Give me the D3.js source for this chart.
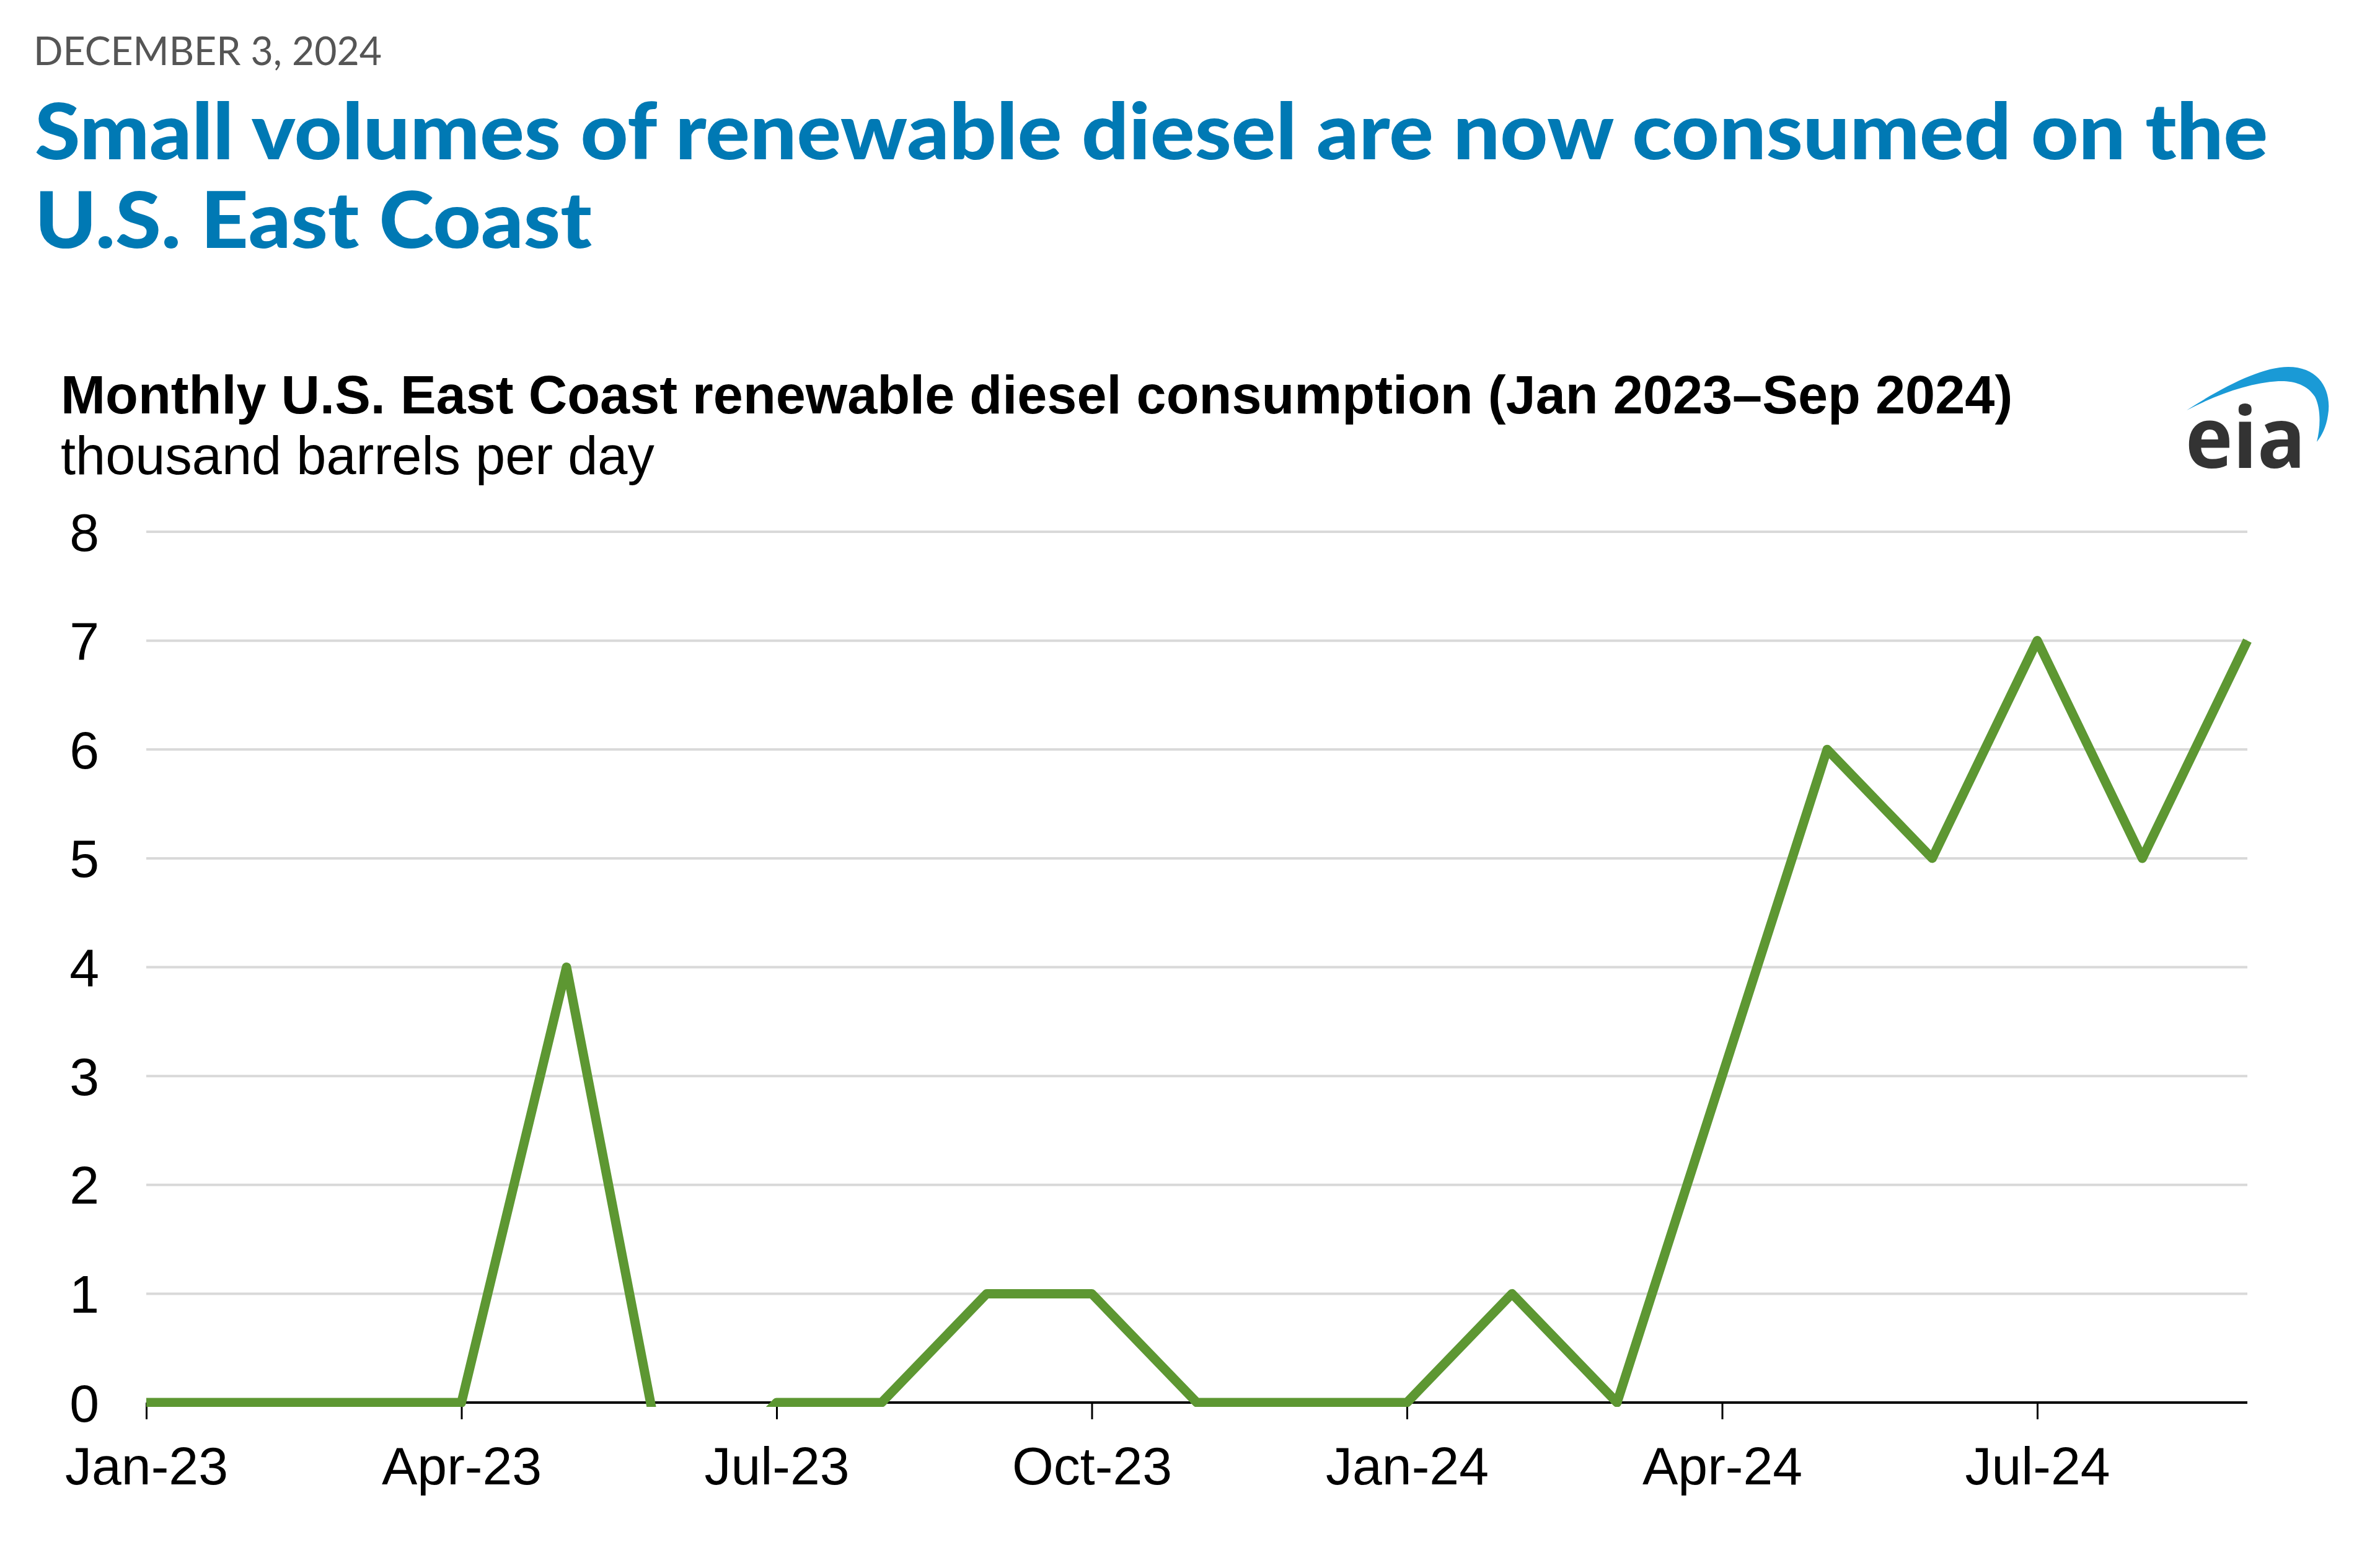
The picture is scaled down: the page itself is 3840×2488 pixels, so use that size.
<!DOCTYPE html>
<html>
<head>
<meta charset="utf-8">
<script src="https://cdn.jsdelivr.net/npm/d3@7"></script>
<style>
  html, body { margin: 0; padding: 0; background: #ffffff; }
  svg { display: block; }
</style>
</head>
<body>
<svg id="chart" width="3840" height="2488"></svg>
<script>
// ---- data ----
const months = ["Jan-23","Feb-23","Mar-23","Apr-23","May-23","Jun-23","Jul-23","Aug-23","Sep-23","Oct-23","Nov-23","Dec-23",
                "Jan-24","Feb-24","Mar-24","Apr-24","May-24","Jun-24","Jul-24","Aug-24","Sep-24"];
const consumption = [0,0,0,0,4,-1,0,0,1,1,0,0,0,1,0,3,6,5,7,5,7];
const xTickLabels = ["Jan-23","Apr-23","Jul-23","Oct-23","Jan-24","Apr-24","Jul-24"];
const yTicks = [0,1,2,3,4,5,6,7,8];

const dateText = "DECEMBER 3, 2024";
const titleLines = ["Small volumes of renewable diesel are now consumed on the", "U.S. East Coast"];
const chartTitle = "Monthly U.S. East Coast renewable diesel consumption (Jan 2023\u2013Sep 2024)";
const unitsText = "thousand barrels per day";

// ---- layout ----
const W = 3840, H = 2488;
const plot = { left: 236, right: 3626, top: 858, bottom: 2263 };
const svg = d3.select("#chart");
svg.append("rect").attr("width", W).attr("height", H).attr("fill", "#ffffff");

// header
svg.append("text").attr("x", 54).attr("y", 105)
  .attr("font-family", "Lato, 'Open Sans', sans-serif").attr("font-size", 64)
  .attr("fill", "#555555").attr("textLength", 562).attr("lengthAdjust", "spacingAndGlyphs")
  .text(dateText);

const titleWidths = [3603, 899];
const titleBaselines = [257, 400];
titleLines.forEach((t, i) => {
  svg.append("text").attr("x", 56).attr("y", titleBaselines[i])
    .attr("font-family", "Lato, 'Open Sans', sans-serif").attr("font-weight", 900).attr("font-size", 125)
    .attr("fill", "#0079b4").attr("textLength", titleWidths[i]).attr("lengthAdjust", "spacingAndGlyphs")
    .text(t);
});

// chart title fitted to width
function fitText(sel, target) {
  const w = sel.node().getComputedTextLength();
  const fs = parseFloat(sel.attr("font-size"));
  sel.attr("font-size", fs * target / w);
}
const ct = svg.append("text").attr("x", 98).attr("y", 667)
  .attr("font-family", "'Liberation Sans', Arial, sans-serif").attr("font-weight", 700).attr("font-size", 80)
  .attr("fill", "#000").text(chartTitle);
fitText(ct, 3150);
const ut = svg.append("text").attr("x", 98).attr("y", 765)
  .attr("font-family", "'Liberation Sans', Arial, sans-serif").attr("font-size", 80)
  .attr("fill", "#000").text(unitsText);
fitText(ut, 958);

// eia logo
const logo = svg.append("g");
logo.append("path")
  .attr("d", "M3528,662 C3590,622 3650,592 3692,592 C3742,592 3763,630 3756,670 C3753,690 3746,703 3738,713 C3744,690 3745,660 3735,640 C3722,620 3700,614 3676,615 C3630,618 3580,635 3528,662 Z")
  .attr("fill", "#1a9ad6");
logo.append("text").attr("x", 3526).attr("y", 755)
  .attr("font-family", "'Open Sans', 'DejaVu Sans', sans-serif").attr("font-weight", 700).attr("font-size", 136)
  .attr("fill", "#333333").attr("textLength", 194).attr("lengthAdjust", "spacingAndGlyphs")
  .text("eia");

// scales
const x = d3.scalePoint().domain(months).range([plot.left, plot.right]);
const y = d3.scaleLinear().domain([0, 8]).range([plot.bottom, plot.top]);

// gridlines
svg.append("g").selectAll("line").data(yTicks.filter(d => d > 0)).join("line")
  .attr("x1", plot.left).attr("x2", plot.right)
  .attr("y1", d => y(d)).attr("y2", d => y(d))
  .attr("stroke", "#d9d9d9").attr("stroke-width", 4);

// y axis labels
const yAxis = d3.axisLeft(y).tickValues(yTicks).tickSize(0).tickPadding(0).tickFormat(d3.format("d"));
const gy = svg.append("g").attr("transform", `translate(${plot.left - 76},0)`).call(yAxis);
gy.select(".domain").remove();
gy.selectAll("text").attr("font-family", "'Liberation Sans', Arial, sans-serif")
  .attr("font-size", 86).attr("fill", "#000").attr("dy", "0.35em");

// x axis
const xAxis = d3.axisBottom(x).tickValues(xTickLabels).tickSize(27).tickPadding(0).tickSizeOuter(0);
const gx = svg.append("g").attr("transform", `translate(0,${plot.bottom})`).call(xAxis);
gx.select(".domain").attr("stroke", "#000").attr("stroke-width", 4)
  .attr("d", `M${plot.left},0H${plot.right}`);
gx.selectAll(".tick line").attr("stroke", "#000").attr("stroke-width", 3);
gx.selectAll(".tick text").attr("font-family", "'Liberation Sans', Arial, sans-serif")
  .attr("font-size", 86).attr("fill", "#000").attr("y", 132).attr("dy", 0);

// clip & line
svg.append("clipPath").attr("id", "plotclip").append("rect")
  .attr("x", plot.left - 20).attr("y", plot.top - 60)
  .attr("width", plot.right - plot.left + 60).attr("height", plot.bottom - plot.top + 60 + 7);

const line = d3.line().x((d, i) => x(months[i])).y(d => y(d));
svg.append("path").datum(consumption)
  .attr("clip-path", "url(#plotclip)")
  .attr("d", line)
  .attr("fill", "none").attr("stroke", "#5d9732").attr("stroke-width", 15)
  .attr("stroke-linejoin", "round").attr("stroke-linecap", "butt");
</script>
</body>
</html>
